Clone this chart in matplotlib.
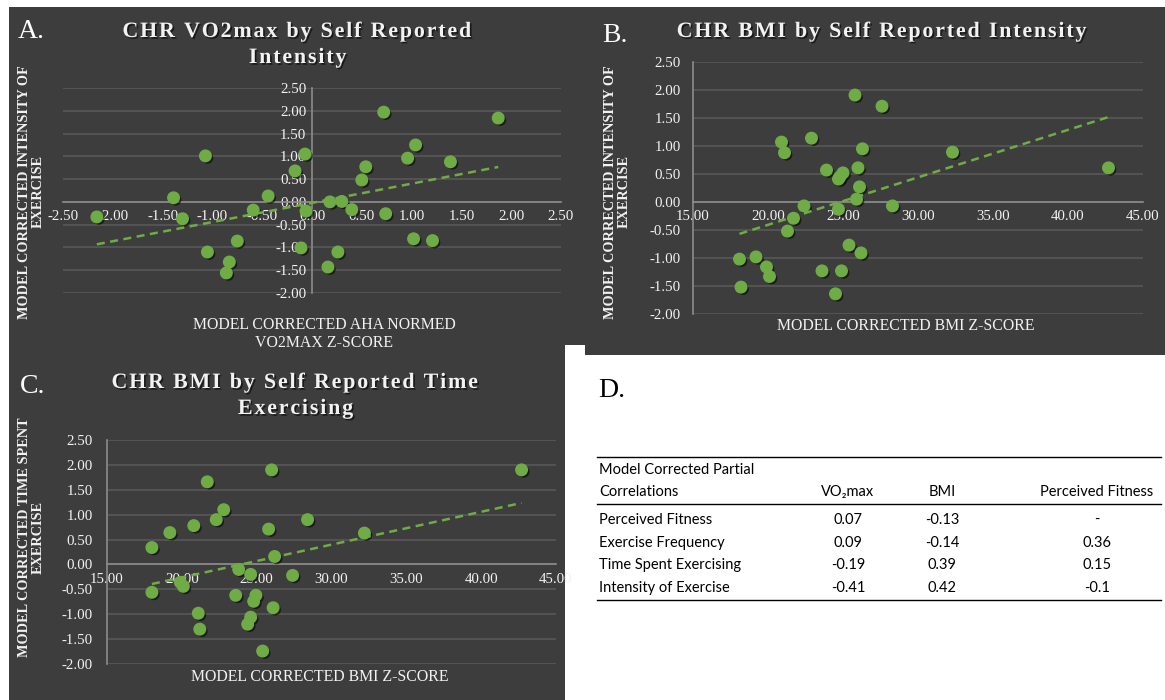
## three scatter panels (dark excel style) + correlation table
import numpy as np
import matplotlib
matplotlib.use('Agg')
import matplotlib.pyplot as plt
import matplotlib.patheffects as pe
from matplotlib.patches import Rectangle
from matplotlib.lines import Line2D

plt.rcParams['axes.unicode_minus'] = False

## A: VO2max z-score vs intensity
a_x = [-2.16, -1.39, -1.30, -1.07, -1.05, -0.75, -0.83, -0.86, -0.59, -0.44,
       -0.17, -0.07, -0.06, -0.11, 0.18, 0.30, 0.40, 0.16, 0.26, 0.50,
       0.54, 0.72, 0.74, 0.96, 1.04, 1.02, 1.21, 1.39, 1.87]
a_y = [-0.33, 0.09, -0.37, 1.01, -1.10, -0.86, -1.32, -1.56, -0.18, 0.13,
       0.68, 1.05, -0.20, -1.01, 0.00, 0.01, -0.17, -1.43, -1.10, 0.48,
       0.77, 1.97, -0.26, 0.96, 1.25, -0.81, -0.85, 0.88, 1.84]

## B: BMI vs intensity
b_x = [18.1, 18.2, 19.2, 19.9, 20.1, 20.9, 21.1, 21.3, 21.7, 22.4,
       22.9, 23.6, 23.9, 24.5, 24.7, 24.7, 24.8, 25.0, 24.9, 25.4,
       25.8, 25.9, 26.0, 26.1, 26.2, 26.3, 27.6, 28.3, 32.3, 42.7]
b_y = [-1.02, -1.52, -0.98, -1.16, -1.33, 1.07, 0.88, -0.52, -0.29, -0.07,
       1.14, -1.23, 0.57, -1.64, 0.41, -0.13, 0.45, 0.52, -1.23, -0.77,
       1.91, 0.05, 0.61, 0.27, -0.91, 0.95, 1.71, -0.07, 0.89, 0.61]

## C: BMI vs time spent exercising
c_x = [18.0, 18.0, 19.2, 19.9, 20.1, 20.8, 21.1, 21.2, 21.7, 22.3,
       22.8, 23.6, 23.8, 24.4, 24.6, 24.6, 24.8, 24.95, 25.4, 25.8,
       26.0, 26.1, 26.2, 27.4, 28.4, 32.2, 42.7]
c_y = [0.34, -0.56, 0.64, -0.36, -0.44, 0.78, -0.98, -1.30, 1.66, 0.90,
       1.10, -0.62, -0.10, -1.20, -0.20, -1.06, -0.74, -0.62, -1.74, 0.71,
       1.90, -0.87, 0.16, -0.22, 0.90, 0.63, 1.90]

## D: table
tab_rows = ['Perceived Fitness', 'Exercise Frequency', 'Time Spent Exercising', 'Intensity of Exercise']
tab_vo2 = ['0.07', '0.09', '-0.19', '-0.41']
tab_bmi = ['-0.13', '-0.14', '0.39', '0.42']
tab_pf = ['-', '0.36', '0.15', '-0.1']

W, H = 1165, 700
bg = '#3d3d3d'
grid_c = '#585858'
axis_c = '#8c8c8c'
green = '#6fac46'
txt = '#f2f2f2'
serif = ['Liberation Serif', 'DejaVu Serif']

fig = plt.figure(figsize=(W/100, H/100), dpi=100)
fig.patch.set_facecolor('white')

def box(x0, y0, x1, y1, color):
    fig.add_artist(Rectangle((x0/W, 1-y1/H), (x1-x0)/W, (y1-y0)/H,
                             transform=fig.transFigure, facecolor=color,
                             edgecolor='none', zorder=0))

def ftext(x, y, s, **kw):
    return fig.text(x/W, 1-y/H, s, **kw)

def hline(x0, x1, y):
    fig.add_artist(Line2D([x0/W, x1/W], [1-y/H, 1-y/H], transform=fig.transFigure,
                          color='black', lw=1.0))

shadow = [pe.withSimplePatchShadow(offset=(1.2, -1.2), shadow_rgbFace='black', alpha=0.6)]

def title(x, y, s):
    ## little extra letter spacing like the original
    ftext(x, y, '\u200a'.join(s), family=serif, fontweight='bold', fontsize=15.8,
          color=txt, ha='center', va='baseline', path_effects=shadow)

def panel(l, t, r, b, xs, ys, xlim, xticks, xcross, xpad, ypad):
    ax = fig.add_axes([l/W, 1-b/H, (r-l)/W, (b-t)/H])
    ax.patch.set_alpha(0)
    ax.set_xlim(xlim)
    ax.set_ylim(-2.0, 2.5)
    ax.set_xticks(xticks)
    ax.set_yticks(np.arange(-2.0, 2.51, 0.5))
    ax.xaxis.set_major_formatter('{x:.2f}')
    ax.yaxis.set_major_formatter('{x:.2f}')
    for s in ['top', 'right']:
        ax.spines[s].set_visible(False)
    ax.spines['left'].set_position(('data', xcross))
    ax.spines['bottom'].set_position(('data', 0))
    for s in ['left', 'bottom']:
        ax.spines[s].set_color(axis_c)
        ax.spines[s].set_linewidth(1.2)
    ax.yaxis.grid(True, color=grid_c, lw=1.2)
    ax.set_axisbelow(True)
    ax.tick_params(axis='both', length=0, labelcolor=txt, labelsize=10.7)
    ax.tick_params(axis='x', pad=xpad)
    ax.tick_params(axis='y', pad=ypad)
    for lab in ax.get_xticklabels() + ax.get_yticklabels():
        lab.set_family(serif)
    ax.plot(xs, ys, 'o', ms=8.3, mfc=green, mec=green, zorder=3, clip_on=False,
            path_effects=[pe.SimplePatchShadow(offset=(1.5, -1.5), shadow_rgbFace='black', alpha=0.55),
                          pe.Normal()])
    ## linear trendline
    k, c0 = np.polyfit(xs, ys, 1)
    tx = np.array([min(xs), max(xs)])
    ax.plot(tx, k*tx + c0, color=green, lw=1.8, ls=(0, (3.2, 2.2)), zorder=4)
    return ax

## backgrounds
box(9, 7, 585, 345, bg)
box(585, 7, 1165, 355, bg)
box(9, 345, 565, 700, bg)

## panel A
panel(63, 88, 561, 293, a_x, a_y, (-2.5, 2.5), np.arange(-2.5, 2.51, 0.5), 0, 6, 4)
ftext(18, 38, 'A.', family=serif, fontsize=20, color='white')
title(298, 37, 'CHR VO2max by Self Reported')
title(298, 63, 'Intensity')
ftext(31, 192, 'MODEL CORRECTED INTENSITY OF\nEXERCISE', family=serif, fontweight='bold',
      fontsize=10.3, color=txt, rotation=90, ha='center', va='center', linespacing=1.05)
ftext(324, 334, 'MODEL CORRECTED AHA NORMED\nVO2MAX Z-SCORE', family=serif, fontsize=11.4,
      color=txt, ha='center', va='center', linespacing=1.15)

## panel B
panel(693, 62, 1143, 314, b_x, b_y, (15, 45), np.arange(15, 45.1, 5), 15, 6, 9)
ftext(602, 42, 'B.', family=serif, fontsize=20, color='white')
title(883, 37, 'CHR BMI by Self Reported Intensity')
ftext(617, 192, 'MODEL CORRECTED INTENSITY OF\nEXERCISE', family=serif, fontweight='bold',
      fontsize=10.3, color=txt, rotation=90, ha='center', va='center', linespacing=1.05)
ftext(906, 326, 'MODEL CORRECTED BMI Z-SCORE', family=serif, fontsize=11.4,
      color=txt, ha='center', va='center')

## panel C
panel(107, 440, 556, 664, c_x, c_y, (15, 45), np.arange(15, 45.1, 5), 15, 6, 10)
ftext(20, 393, 'C.', family=serif, fontsize=20, color='white')
title(296, 388, 'CHR BMI by Self Reported Time')
title(296, 414, 'Exercising')
ftext(31, 537, 'MODEL CORRECTED TIME SPENT\nEXERCISE', family=serif, fontweight='bold',
      fontsize=10.3, color=txt, rotation=90, ha='center', va='center', linespacing=1.05)
ftext(320, 677, 'MODEL CORRECTED BMI Z-SCORE', family=serif, fontsize=11.4,
      color=txt, ha='center', va='center')

## panel D (table)
sans = ['Lato', 'DejaVu Sans']
ftext(598, 397, 'D.', family=serif, fontsize=20, color='black')
hline(597, 1161, 457)
hline(597, 1161, 504)
hline(597, 1161, 600)
ftext(599, 470, 'Model Corrected Partial', family=sans, fontsize=10.5, va='center')
ftext(599, 492, 'Correlations', family=sans, fontsize=10.5, va='center')
ftext(848, 492, 'VO\u2082max', family=sans, fontsize=10.5, va='center', ha='center')
ftext(942, 492, 'BMI', family=sans, fontsize=10.5, va='center', ha='center')
ftext(1097, 492, 'Perceived Fitness', family=sans, fontsize=10.5, va='center', ha='center')
row_y = [520, 543, 565, 588]
for i in range(len(tab_rows)):
    ftext(599, row_y[i], tab_rows[i], family=sans, fontsize=10.5, va='center')
    ftext(848, row_y[i], tab_vo2[i], family=sans, fontsize=10.5, va='center', ha='center')
    ftext(942, row_y[i], tab_bmi[i], family=sans, fontsize=10.5, va='center', ha='center')
    ftext(1097, row_y[i], tab_pf[i], family=sans, fontsize=10.5, va='center', ha='center')

fig.savefig('out.png', dpi=100, facecolor=fig.get_facecolor())
